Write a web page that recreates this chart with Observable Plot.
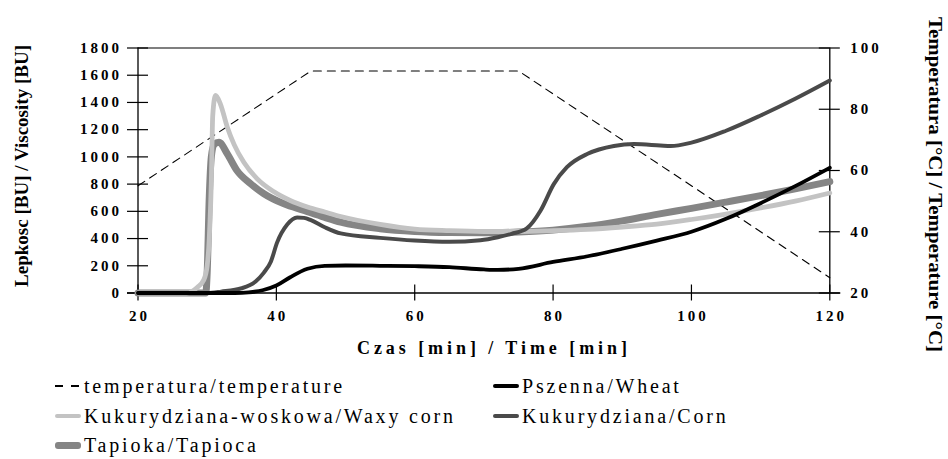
<!DOCTYPE html>
<html><head><meta charset="utf-8">
<script src="https://cdn.jsdelivr.net/npm/d3@7"></script>
<script src="https://cdn.jsdelivr.net/npm/@observablehq/plot@0.6"></script>
<style>
body{margin:0;background:#fff;}
#wrap{position:relative;width:948px;height:459px;overflow:hidden;font-family:"Liberation Serif",serif;background:#fff;}
#legend{position:absolute;left:0;top:0;width:948px;height:459px;pointer-events:none;}
.item{position:absolute;display:flex;align-items:center;height:26px;font-size:20px;letter-spacing:2.8px;white-space:nowrap;color:#000;}
.sw{width:26px;margin-right:3px;border-radius:3px;}
.dash{width:24px;margin-right:5px;height:1.4px;background:repeating-linear-gradient(90deg,#000 0 8px,transparent 8px 16px);}
</style></head><body><div id="wrap"><div id="chart"></div><div id="legend"></div></div>
<script>
// ---- data ----
const tempTime = [20, 45, 75, 120];
const tempValue = [55, 92.5, 92.5, 25];

const wheatTime = [20, 34, 36, 38, 40, 42, 44.5, 47, 50, 55, 60, 65, 70, 72, 75, 80, 85, 90, 95, 100, 105, 110, 115, 120];
const wheatVisc = [0, 0, 5, 20, 55, 116, 178, 200, 202, 200, 197, 190, 173, 170, 178, 228, 270, 325, 385, 450, 545, 660, 785, 920];

const waxyTime = [20, 27, 28.6, 29.5, 30, 30.3, 30.6, 30.8, 31.2, 31.9, 32.9, 33.9, 35.3, 37.2, 39.6, 42, 44.5, 47, 49.3, 55, 60, 65, 70, 75, 80, 85, 90, 95, 100, 105, 110, 115, 120];
const waxyVisc = [0, 0, 43, 95, 200, 400, 820, 1300, 1451, 1390, 1220, 1090, 960, 840, 745, 680, 632, 595, 562, 505, 470, 458, 452, 452, 458, 468, 485, 506, 540, 580, 625, 675, 735];

const cornTime = [20, 30, 32, 35, 37, 38.2, 39.2, 40.1, 41.6, 43, 44, 45, 47, 49.3, 55, 60, 65, 69.5, 72, 74, 76.2, 78.2, 80.1, 82, 85, 88.8, 91.7, 95.5, 97, 100, 105, 110, 115, 120];
const cornVisc = [0, 0, 10, 35, 85, 150, 230, 370, 505, 555, 552, 535, 483, 438, 405, 385, 376, 388, 410, 435, 475, 606, 800, 924, 1023, 1080, 1094, 1084, 1080, 1105, 1192, 1304, 1427, 1561];

const tapiocaTime = [20, 29.8, 30, 30.3, 30.6, 31, 31.7, 32.9, 34.3, 36.3, 38.2, 41.1, 44, 46.9, 49.3, 55, 60, 65, 70, 75, 80, 85, 90, 95, 100, 105, 110, 115, 120];
const tapiocaVisc = [0, 0, 150, 700, 1000, 1090, 1108, 1023, 900, 802, 729, 655, 606, 557, 520, 472, 452, 444, 442, 448, 462, 490, 530, 578, 622, 668, 715, 765, 818];

const xTicks = [20, 40, 60, 80, 100, 120];
const viscTicks = [0, 200, 400, 600, 800, 1000, 1200, 1400, 1600, 1800];
const tempTicks = [20, 40, 60, 80, 100];

const seriesNames = ["temperatura/temperature", "Pszenna/Wheat", "Kukurydziana-woskowa/Waxy corn", "Kukurydziana/Corn", "Tapioka/Tapioca"];
const xTitle = "Czas [min] / Time [min]";
const yTitle = "Lepkosc [BU] / Viscosity [BU]";
const y2Title = "Temperatura [°C] / Temperature [°C]";

// temperature axis (20..100 °C) mapped onto viscosity axis (0..1800 BU)
const tToV = T => (T - 20) * 1800 / 80;
const vToT = v => v * 80 / 1800 + 20;

const pts = (ts, vs) => ts.map((t, i) => ({t, v: vs[i]}));
const temp = tempTime.map((t, i) => ({t, v: tToV(tempValue[i])}));

const W = 948, H = 368;
const axisFont = {fontSize: 15, fontWeight: "bold", fill: "#000"};

const chart = Plot.plot({
  width: W, height: H,
  marginLeft: 137.5, marginRight: 118.7, marginTop: 47.5, marginBottom: H - 292.5,
  x: {domain: [20, 120]},
  y: {domain: [0, 1800]},
  style: {fontFamily: "'Liberation Serif', serif", background: "#fff", overflow: "visible", color: "#000"},
  marks: [
    Plot.ruleY([1800], {stroke: "#000", strokeWidth: 1.2}),
    Plot.ruleX([20, 120], {stroke: "#000", strokeWidth: 1.3}),
    Plot.ruleY([0], {stroke: "#000", strokeWidth: 1.3, insetLeft: -10.5, insetRight: -11}),
    // ticks crossing axes
    Plot.ruleX(xTicks, {y1: () => 0, y2: () => 0, insetTop: -8, insetBottom: -8, stroke: "#000", strokeWidth: 1.2}),
    Plot.ruleY(viscTicks, {x1: () => 20, x2: () => 20, insetLeft: -10.5, insetRight: -10.5, stroke: "#000", strokeWidth: 1.2}),
    Plot.ruleY(tempTicks.map(tToV), {x1: () => 120, x2: () => 120, insetLeft: -10.5, insetRight: -10.5, stroke: "#000", strokeWidth: 1.2}),
    // tick labels
    Plot.axisX({ticks: xTicks, tickFormat: d => String(d), tickSize: 0, tickPadding: 17, label: null, dx: 1.5, ...axisFont}),
    Plot.axisY({ticks: viscTicks, tickFormat: d => String(d), tickSize: 0, tickPadding: 16, label: null, ...axisFont}),
    Plot.axisY({anchor: "right", ticks: tempTicks.map(tToV), tickFormat: d => String(Math.round(vToT(d))), tickSize: 0, tickPadding: 20.5, label: null, ...axisFont}),
    // series
    Plot.line(temp, {x: "t", y: "v", stroke: "#000", strokeWidth: 1.1, strokeDasharray: "8,6"}),
    Plot.line(pts(tapiocaTime, tapiocaVisc), {x: "t", y: "v", stroke: "#858585", strokeWidth: 7, curve: "monotone-x", strokeLinecap: "round"}),
    Plot.line(pts(waxyTime, waxyVisc), {x: "t", y: "v", stroke: "#c3c3c3", strokeWidth: 4.8, curve: "monotone-x", strokeLinecap: "round"}),
    Plot.line(pts(cornTime, cornVisc), {x: "t", y: "v", stroke: "#4a4a4a", strokeWidth: 4, curve: "monotone-x", strokeLinecap: "round"}),
    Plot.line(pts(wheatTime, wheatVisc), {x: "t", y: "v", stroke: "#000", strokeWidth: 3.8, curve: "monotone-x", strokeLinecap: "round"})
  ]
});
document.getElementById("chart").appendChild(chart);

const svg = d3.select(chart);
svg.selectAll('[aria-label*="tick label"]').attr("letter-spacing", "3");
// axis titles
svg.append("text").text(yTitle)
  .attr("transform", "translate(28,166) rotate(-90)")
  .attr("text-anchor", "middle").attr("font-size", 18).attr("font-weight", "bold")
  .attr("textLength", 242).attr("lengthAdjust", "spacingAndGlyphs");
svg.append("text").text(y2Title)
  .attr("transform", "translate(929,17) rotate(90)")
  .attr("text-anchor", "start").attr("font-size", 18).attr("font-weight", "bold")
  .attr("textLength", 335).attr("lengthAdjust", "spacingAndGlyphs");
svg.append("text").text(xTitle)
  .attr("x", 492).attr("y", 354)
  .attr("text-anchor", "middle").attr("font-size", 18).attr("font-weight", "bold")
  .attr("textLength", 270).attr("lengthAdjust", "spacing");

// legend
const legend = document.getElementById("legend");
const items = [
  {name: seriesNames[0], x: 55, row: 0, kind: "dash"},
  {name: seriesNames[1], x: 493, row: 0, color: "#000", h: 4},
  {name: seriesNames[2], x: 55, row: 1, color: "#c3c3c3", h: 4},
  {name: seriesNames[3], x: 493, row: 1, color: "#4a4a4a", h: 4},
  {name: seriesNames[4], x: 55, row: 2, color: "#858585", h: 7}
];
const rowCenters = [386, 416, 445];
items.forEach(it => {
  const d = document.createElement("div");
  d.className = "item";
  d.style.left = it.x + "px";
  d.style.top = (rowCenters[it.row] - 13) + "px";
  const s = document.createElement("span");
  if (it.kind === "dash") s.className = "dash";
  else { s.className = "sw"; s.style.height = it.h + "px"; s.style.background = it.color; }
  d.appendChild(s);
  const t = document.createElement("span");
  t.textContent = it.name;
  d.appendChild(t);
  legend.appendChild(d);
});
</script></body></html>
